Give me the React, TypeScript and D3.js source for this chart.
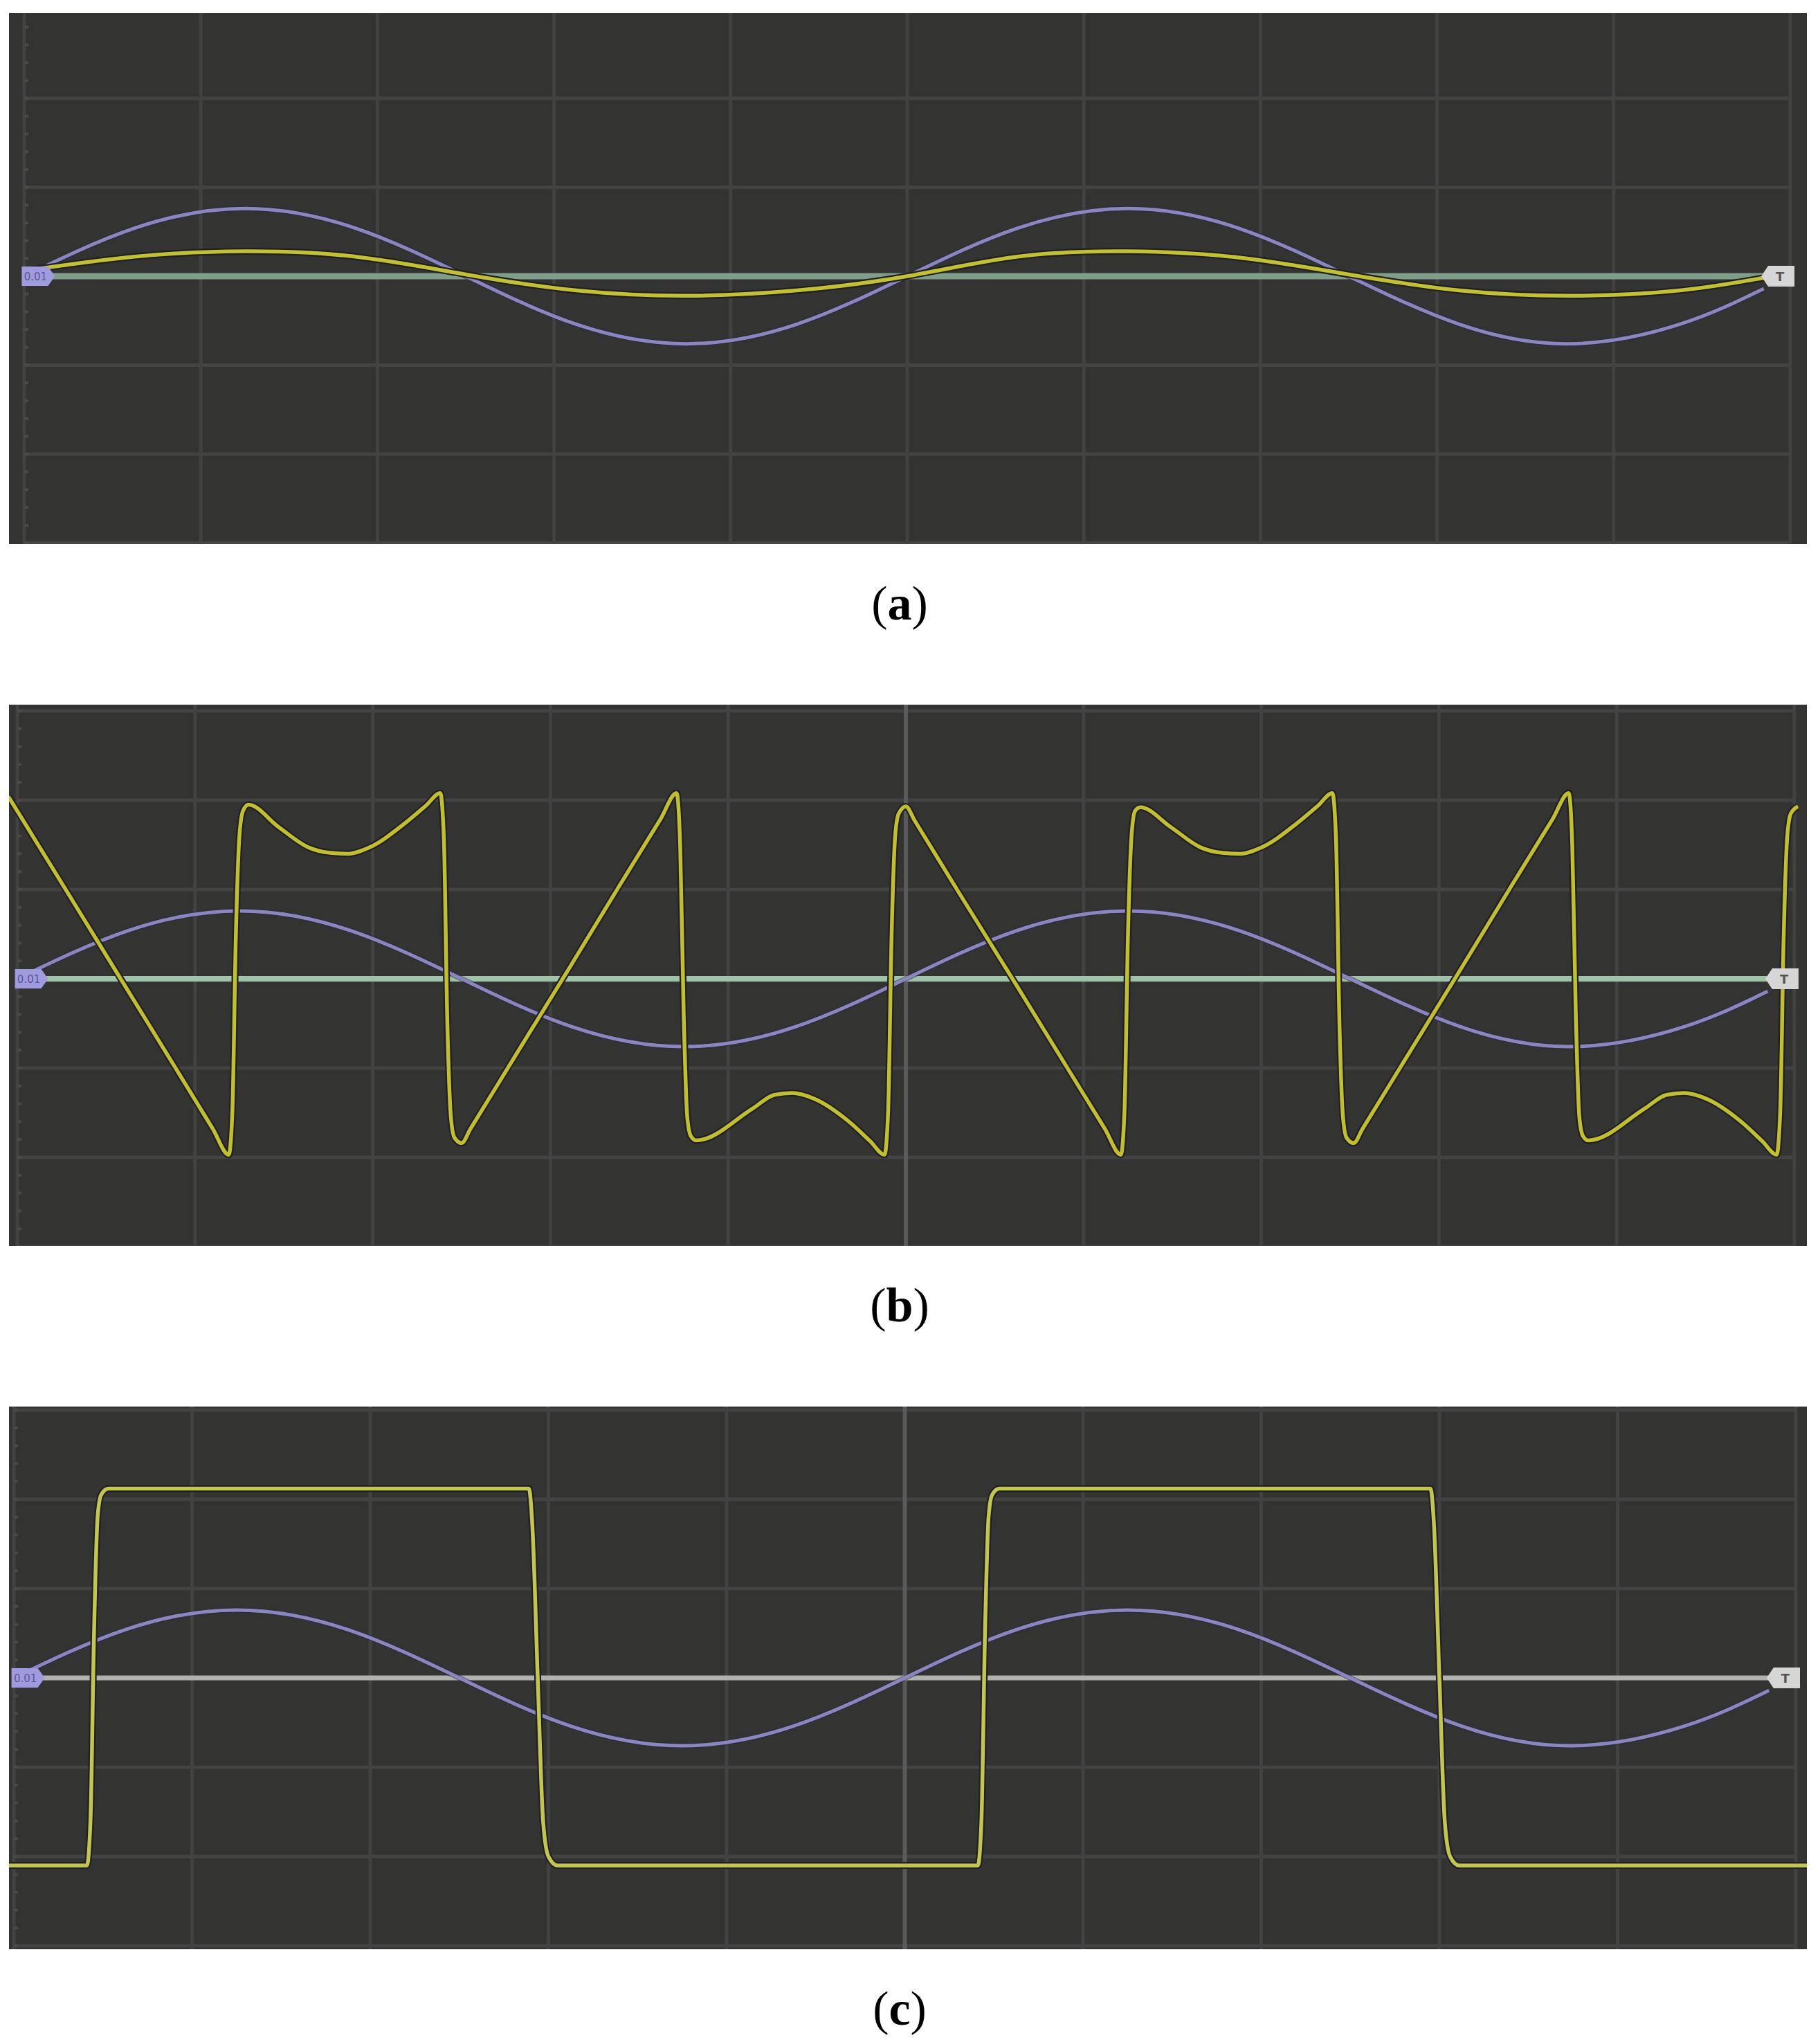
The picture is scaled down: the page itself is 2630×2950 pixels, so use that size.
import * as d3 from "d3";
import React from "react";

const WIDTH = 2630;
const HEIGHT = 2950;

// scope grid: x in divisions 0..10, y in divisions -3..3
const xDivs = d3.range(0, 11);
const yDivs = d3.range(-3, 4);
const minorDivs = d3.range(-3, 3.001, 0.2);

// purple reference sine, same in all three captures
const refSine = [
  [0, 0], [0.625, 0.54], [1.25, 0.76], [1.875, 0.54], [2.5, 0], [3.125, -0.54],
  [3.75, -0.76], [4.375, -0.54], [5, 0], [5.625, 0.54], [6.25, 0.76], [6.875, 0.54],
  [7.5, 0], [8.125, -0.54], [8.75, -0.76], [9.375, -0.54], [9.85, -0.14],
];

// (a) small in-phase output
const outA = [
  [0, 0.06], [0.625, 0.22], [1.25, 0.28], [1.875, 0.22], [2.5, 0.02], [3.125, -0.16],
  [3.75, -0.22], [4.375, -0.16], [5, 0], [5.625, 0.22], [6.25, 0.28], [6.875, 0.21],
  [7.5, 0.02], [8.125, -0.16], [8.75, -0.22], [9.375, -0.16], [9.9, 0],
];

const outB = [
  [-0.05, 2.04], [0.3, 0.91], [0.6, -0.06], [0.9, -1.03], [1.1, -1.68], [1.19, -1.97],
  [1.21, -1.5], [1.23, 0.5], [1.25, 1.6], [1.27, 1.88], [1.3, 1.95], [1.47, 1.7],
  [1.64, 1.47], [1.76, 1.41], [1.86, 1.4], [1.98, 1.47], [2.18, 1.74], [2.3, 1.94],
  [2.38, 2.08], [2.4, 1.6], [2.42, -0.5], [2.44, -1.55], [2.46, -1.78], [2.5, -1.84],
  [2.55, -1.68], [2.8, -0.87], [3.1, 0.1], [3.4, 1.08], [3.62, 1.79], [3.71, 2.08],
  [3.73, 1.5], [3.75, -0.4], [3.77, -1.55], [3.79, -1.76], [3.82, -1.81], [4.14, -1.45],
  [4.26, -1.3], [4.36, -1.28], [4.48, -1.34], [4.68, -1.6], [4.8, -1.82], [4.88, -1.97],
  [4.9, -1.5], [4.92, 0.5], [4.94, 1.6], [4.96, 1.85], [5.0, 1.93], [5.05, 1.77],
  [5.3, 0.96], [5.6, 0.0], [5.9, -0.97], [6.12, -1.68], [6.21, -1.97], [6.23, -1.5],
  [6.25, 0.5], [6.27, 1.6], [6.29, 1.88], [6.32, 1.92], [6.49, 1.7], [6.66, 1.47],
  [6.78, 1.41], [6.88, 1.4], [7.0, 1.47], [7.2, 1.74], [7.32, 1.94], [7.4, 2.08],
  [7.42, 1.6], [7.44, -0.5], [7.46, -1.55], [7.48, -1.78], [7.52, -1.84], [7.57, -1.68],
  [7.82, -0.87], [8.12, 0.1], [8.42, 1.08], [8.64, 1.79], [8.73, 2.08], [8.75, 1.5],
  [8.77, -0.4], [8.79, -1.55], [8.81, -1.76], [8.84, -1.81], [9.16, -1.45], [9.28, -1.3],
  [9.38, -1.28], [9.5, -1.34], [9.7, -1.6], [9.82, -1.82], [9.9, -1.97], [9.92, -1.5],
  [9.94, 0.5], [9.96, 1.6], [9.98, 1.85], [10.02, 1.93],
];

// (c) square output
const outC = [
  [-0.1, -2.1], [0.41, -2.1], [0.43, -1.6], [0.45, 0.5], [0.47, 1.8], [0.49, 2.05],
  [0.53, 2.12], [2.89, 2.12], [2.91, 1.7], [2.94, 0], [2.97, -1.6], [3.0, -2.0],
  [3.05, -2.1], [5.41, -2.1], [5.43, -1.6], [5.45, 0.5], [5.47, 1.8], [5.49, 2.05],
  [5.53, 2.12], [7.95, 2.12], [7.97, 1.7], [8.0, 0], [8.03, -1.6], [8.06, -2.0],
  [8.11, -2.1], [10.2, -2.1],
];

const panelNames = ["a", "b", "c"];
const outputs = [outA, outB, outC];

const layout = [
  { top: 19, bottom: 786, center: 399, g0: 35, g10: 2587, step: 128.5, hLine: "#7f9d89", hW: 9, bright: false, yellow: "#c3c22c" },
  { top: 1018, bottom: 1800, center: 1414, g0: 25, g10: 2593, step: 129, hLine: "#9fc3a8", hW: 8, bright: true, yellow: "#c2c02a" },
  { top: 2032, bottom: 2816, center: 2424, g0: 20, g10: 2595, step: 129, hLine: "#b1b1ad", hW: 7, bright: true, yellow: "#c2c64a" },
];

const PANEL_LEFT = 13;
const PANEL_RIGHT = 2611;

const Panel = ({ idx }) => {
  const p = layout[idx];
  const x = d3.scaleLinear().domain([0, 10]).range([p.g0, p.g10]);
  const y = d3.scaleLinear().domain([-3, 3]).range([p.center + 3 * p.step, p.center - 3 * p.step]);

  const sineLine = d3.line().x((d) => x(d[0])).y((d) => y(d[1])).curve(d3.curveNatural);
  const outLine = d3
    .line()
    .x((d) => x(d[0]))
    .y((d) => y(d[1]))
    .curve(idx === 0 ? d3.curveNatural : d3.curveMonotoneX);

  const clipId = `clip-${panelNames[idx]}`;
  const bx0 = x(0.08);
  const bx1 = x(9.93);
  const cy = y(0);

  return (
    <g>
      <defs>
        <clipPath id={clipId}>
          <rect x={PANEL_LEFT} y={p.top} width={PANEL_RIGHT - PANEL_LEFT} height={p.bottom - p.top} />
        </clipPath>
      </defs>
      <rect x={PANEL_LEFT} y={p.top} width={PANEL_RIGHT - PANEL_LEFT} height={p.bottom - p.top} fill="#333332" />
      <g clipPath={`url(#${clipId})`}>
        {yDivs.map((d) => (
          <line key={"h" + d} x1={x(0)} x2={x(10)} y1={y(d)} y2={y(d)} stroke="#434343" strokeWidth={5} />
        ))}
        {xDivs.map((d) => (
          <line
            key={"v" + d}
            x1={x(d)}
            x2={x(d)}
            y1={p.top}
            y2={p.bottom}
            stroke={p.bright && d === 5 ? "#5a5a5a" : "#424242"}
            strokeWidth={p.bright && d === 5 ? 6 : 5}
          />
        ))}
        {minorDivs.map((d) => (
          <line key={"m" + d} x1={x(0)} x2={x(0) + 6} y1={y(d)} y2={y(d)} stroke="#4a4a4a" strokeWidth={4} />
        ))}
        <line x1={bx0} x2={bx1} y1={cy} y2={cy} stroke={p.hLine} strokeWidth={p.hW} />
        <path d={sineLine(refSine)} fill="none" stroke="#2a2a3a" strokeWidth={8} strokeOpacity={0.5} />
        <path d={sineLine(refSine)} fill="none" stroke="#8b85c2" strokeWidth={5} />
        <path d={outLine(outputs[idx])} fill="none" stroke="#1f1f2c" strokeWidth={10} strokeLinejoin="round" />
        <path d={outLine(outputs[idx])} fill="none" stroke={p.yellow} strokeWidth={5.5} strokeLinejoin="round" />
        <g transform={`translate(${bx0},${cy})`}>
          <path d="M-24,-14 H14 L24,0 L14,14 H-24 Z" fill="#a09ade" />
          <text x={-4} y={6} textAnchor="middle" fontFamily="DejaVu Sans" fontSize={15} fill="#5c5692">
            0.01
          </text>
        </g>
        <g transform={`translate(${bx1},${cy})`}>
          <path d="M24,-15 H-14 L-24,0 L-14,15 H24 Z" fill="#d6d6d6" />
          <text x={3} y={7} textAnchor="middle" fontFamily="DejaVu Sans" fontSize={18} fontWeight="bold" fill="#555">
            T
          </text>
        </g>
      </g>
      <text
        x={1300}
        y={p.bottom + 109}
        textAnchor="middle"
        fontFamily="Liberation Serif"
        fontSize={70}
        fill="#000"
      >
        (<tspan fontWeight="bold">{panelNames[idx]}</tspan>)
      </text>
    </g>
  );
};

export default function App() {
  return (
    <svg
      width={WIDTH}
      height={HEIGHT}
      style={{ position: "absolute", left: 0, top: 0, background: "#fff" }}
    >
      {layout.map((_, i) => (
        <Panel key={i} idx={i} />
      ))}
    </svg>
  );
}
